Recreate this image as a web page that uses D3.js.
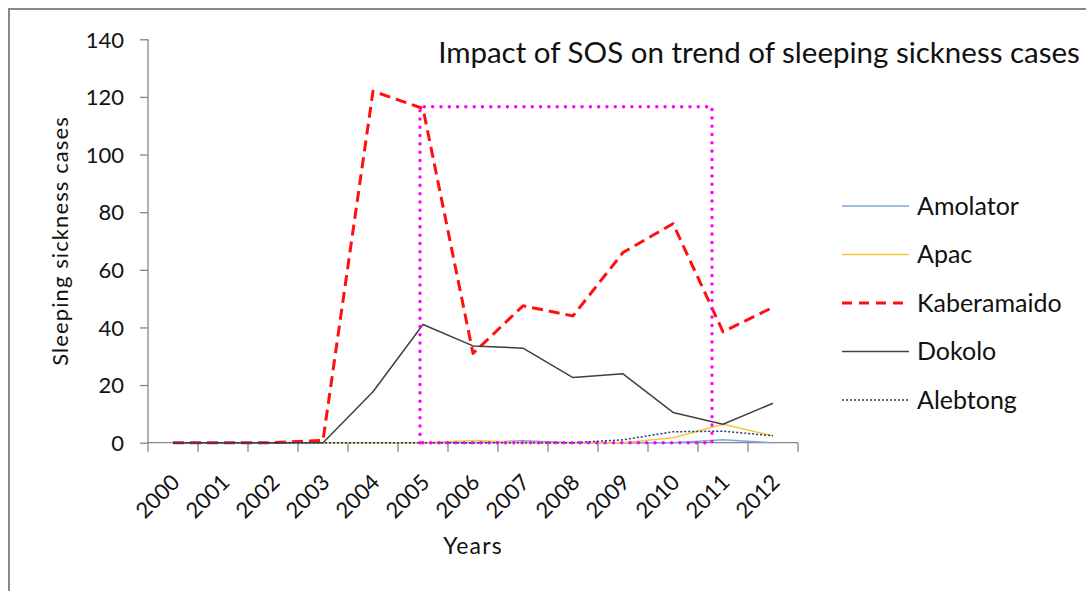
<!DOCTYPE html>
<html>
<head>
<meta charset="utf-8">
<script src="https://cdn.jsdelivr.net/npm/d3@7"></script>
<style>
  html, body { margin: 0; padding: 0; background: #fff; }
  svg { display: block; font-family: Lato, "Open Sans", sans-serif; }
</style>
</head>
<body>
<svg id="chart" width="1086" height="591"></svg>
<script>
// ---- data ----
const years = ["2000","2001","2002","2003","2004","2005","2006","2007","2008","2009","2010","2011","2012"];
const amolator    = [0, 0, 0, 0, 0, 0, 0, 0.7, 0, 0, 0, 1, 0];
const apac        = [0, 0, 0, 0, 0, 0, 0.8, 0, 0, 0, 1.7, 6.4, 2.4];
const kaberamaido = [0, 0, 0, 0.8, 122, 116, 31, 47.5, 44, 66, 76, 38.5, 47];
const dokolo      = [0, 0, 0, 0, 17.7, 41, 33.6, 32.8, 22.6, 23.9, 10.5, 6.4, 13.7];
const alebtong    = [0, 0, 0, 0, 0, 0, 0, 0, 0, 1, 3.8, 4, 2.4];
const yTicks      = [0, 20, 40, 60, 80, 100, 120, 140];
const seriesNames = ["Amolator", "Apac", "Kaberamaido", "Dokolo", "Alebtong"];
// highlighted SOS period (in year units) and its top value
const sosYears = [2004.94, 2010.78];
const sosTop = 116.6;

const title = "Impact of SOS on trend of sleeping sickness cases";
const xTitle = "Years";
const yTitle = "Sleeping sickness cases";

// ---- styles ----
const styles = {
  Amolator:    { color: "#7FA7D9", width: 1.5, dash: null },
  Apac:        { color: "#FAC53E", width: 1.5, dash: null },
  Kaberamaido: { color: "#FF1010", width: 3,   dash: "11,6" },
  Dokolo:      { color: "#404040", width: 1.5, dash: null },
  Alebtong:    { color: "#1F3B70", width: 1.5, dash: "2,2" }
};
const values = { Amolator: amolator, Apac: apac, Kaberamaido: kaberamaido, Dokolo: dokolo, Alebtong: alebtong };

const svg = d3.select("#chart");
const plot = { left: 148, right: 798, top: 39.3, bottom: 442.7 };

// outer border
svg.append("rect").attr("x", 9).attr("y", 9).attr("width", 1200).attr("height", 700)
  .attr("fill", "#fff").attr("stroke", "#888").attr("stroke-width", 2);

const x = d3.scaleBand().domain(years).range([plot.left, plot.right]).padding(0);
const xLin = d3.scaleLinear().domain([1999.5, 2012.5]).range([plot.left, plot.right]);
const y = d3.scaleLinear().domain([0, 140]).range([plot.bottom, plot.top]);

const axisColor = "#868686";

// y axis
const yAxis = svg.append("g").attr("transform", `translate(${plot.left},0)`)
  .call(d3.axisLeft(y).tickValues(yTicks).tickSize(8).tickPadding(16));
yAxis.select(".domain").attr("stroke", axisColor).attr("stroke-width", 1.3).attr("d", `M0,${plot.top}V${plot.bottom}`);
yAxis.selectAll(".tick line").attr("stroke", axisColor).attr("stroke-width", 1.3);
yAxis.selectAll(".tick text").attr("font-size", 22).attr("fill", "#111").attr("font-family", "Lato, sans-serif").attr("dy", "0.35em");

// x axis (ticks at band boundaries)
const xg = svg.append("g").attr("transform", `translate(0,${plot.bottom})`);
xg.append("line").attr("x1", plot.left).attr("x2", plot.right).attr("y1", 0).attr("y2", 0)
  .attr("stroke", axisColor).attr("stroke-width", 1.3);
const boundaries = d3.range(years.length + 1).map(i => i === years.length ? plot.right : x(years[i]));
xg.selectAll("line.tk").data(boundaries).join("line").attr("class", "tk")
  .attr("x1", d => d).attr("x2", d => d).attr("y1", 0).attr("y2", 9)
  .attr("stroke", axisColor).attr("stroke-width", 1.3);
xg.selectAll("text.lbl").data(years).join("text").attr("class", "lbl")
  .attr("transform", d => `translate(${x(d) + x.bandwidth() / 2 + 8},${41}) rotate(-45)`)
  .attr("text-anchor", "end").attr("font-size", 22).attr("fill", "#111")
  .text(d => d);

// lines
const line = d3.line().x((d, i) => x(years[i]) + x.bandwidth() / 2).y(d => y(d));
seriesNames.forEach(name => {
  const s = styles[name];
  svg.append("path").datum(values[name])
    .attr("d", line).attr("fill", "none")
    .attr("stroke", s.color).attr("stroke-width", s.width)
    .attr("stroke-dasharray", s.dash)
    .attr("stroke-linejoin", "round");
});

// SOS highlight rectangle (magenta dotted)
svg.append("path")
  .attr("d", `M${xLin(sosYears[0])},${y(0)}V${y(sosTop)}H${xLin(sosYears[1])}V${y(0)}H${xLin(sosYears[0])}`)
  .attr("fill", "none").attr("stroke", "#FF00FF").attr("stroke-width", 3.4)
  .attr("stroke-dasharray", "0.1,8.2").attr("stroke-linecap", "round");

// titles
svg.append("text").attr("x", 759).attr("y", 63).attr("text-anchor", "middle")
  .attr("font-size", 29.5).attr("fill", "#111").text(title);
svg.append("text").attr("x", (plot.left + plot.right) / 2).attr("y", 554).attr("text-anchor", "middle")
  .attr("font-size", 23).attr("letter-spacing", 1.2).attr("fill", "#111").text(xTitle);
svg.append("text").attr("transform", `translate(68,241) rotate(-90)`).attr("text-anchor", "middle")
  .attr("font-size", 22).attr("letter-spacing", 1.1).attr("fill", "#111").text(yTitle);

// legend
const legend = svg.append("g");
const legendY = d3.scalePoint().domain(seriesNames).range([206, 400]);
seriesNames.forEach(name => {
  const s = styles[name];
  const ly = legendY(name);
  legend.append("line").attr("x1", 842).attr("x2", 909).attr("y1", ly).attr("y2", ly)
    .attr("stroke", s.color).attr("stroke-width", s.width).attr("stroke-dasharray", name === "Kaberamaido" ? "10,7" : s.dash);
  legend.append("text").attr("x", 917).attr("y", ly).attr("dy", "0.35em")
    .attr("font-size", 25).attr("fill", "#111").text(name);
});
</script>
</body>
</html>
